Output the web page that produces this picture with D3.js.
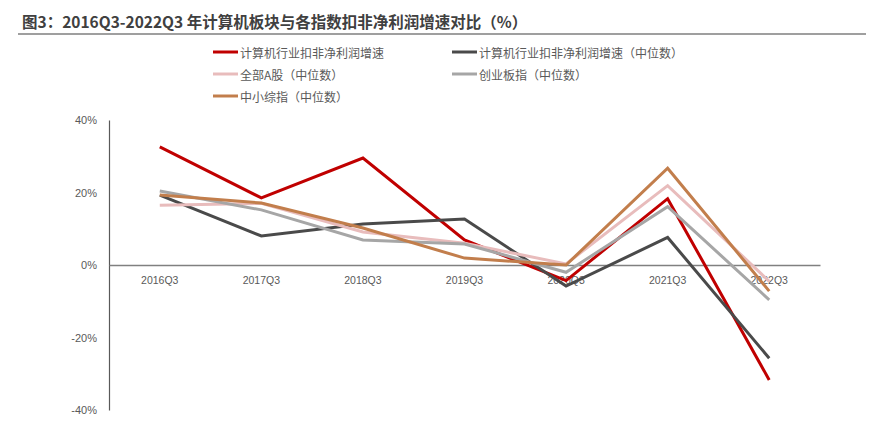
<!DOCTYPE html>
<html>
<head>
<meta charset="utf-8">
<script src="https://cdn.jsdelivr.net/npm/d3@7"></script>
<style>
  body { margin: 0; background: #fff; }
  svg { font-family: "Noto Sans CJK SC", "Noto Sans", sans-serif; }
</style>
</head>
<body>
<svg id="chart" width="886" height="423"></svg>
<script>
// Chart data
const categories = ["2016Q3", "2017Q3", "2018Q3", "2019Q3", "2020Q3", "2021Q3", "2022Q3"];
const computerIndustry = [32.6, 18.5, 29.5, 6.9, -4.3, 18.3, -31.7];
const computerMedian = [19.3, 8.0, 11.3, 12.7, -5.8, 7.6, -25.7];
const allAShareMedian = [16.5, 17.0, 9.1, 6.0, 0.3, 21.9, -4.5];
const chinextMedian = [20.4, 15.2, 6.9, 5.8, -2.0, 16.1, -9.6];
const smeMedian = [19.3, 17.1, 10.2, 1.9, 0.0, 26.7, -7.2];
const yTicks = [-40, -20, 0, 20, 40];

const seriesNames = [
    "计算机行业扣非净利润增速",
    "计算机行业扣非净利润增速（中位数）",
    "全部A股（中位数）",
    "创业板指（中位数）",
    "中小综指（中位数）"
];
const seriesValues = [computerIndustry, computerMedian, allAShareMedian, chinextMedian, smeMedian];
const seriesColors = ["#C00000", "#4A4A4A", "#E8BCBC", "#A6A6A6", "#C27E4C"];

const svg = d3.select("#chart");

// Title and rule beneath it
svg.append("text")
    .attr("x", 22).attr("y", 28)
    .attr("font-size", 15.5).attr("font-weight", "bold")
    .attr("fill", "#404040")
    .text("图3：2016Q3-2022Q3 年计算机板块与各指数扣非净利润增速对比（%）");
svg.append("line")
    .attr("x1", 18).attr("x2", 866).attr("y1", 34).attr("y2", 34)
    .attr("stroke", "#7f7f7f").attr("stroke-width", 1.5);

// Legend
const legendPos = [[213, 52], [452, 52], [213, 74], [452, 74], [213, 96]];
const legend = svg.append("g");
seriesNames.forEach((name, i) => {
    const [lx, ly] = legendPos[i];
    legend.append("line")
        .attr("x1", lx).attr("x2", lx + 25).attr("y1", ly).attr("y2", ly)
        .attr("stroke", seriesColors[i]).attr("stroke-width", 3);
    legend.append("text")
        .attr("x", lx + 27).attr("y", ly)
        .attr("dominant-baseline", "central")
        .attr("font-size", 12).attr("fill", "#595959")
        .text(name);
});

// Scales
const x = d3.scaleBand().domain(categories).range([109, 820]);
const y = d3.scaleLinear().domain([-40, 40]).range([410, 120]);

// Y axis
const yAxis = svg.append("g")
    .attr("transform", "translate(109,0)")
    .call(d3.axisLeft(y).tickValues(yTicks).tickSize(0).tickPadding(12).tickFormat(d => d + "%"));
yAxis.select(".domain").attr("stroke", "#595959").attr("stroke-width", 1.2);
yAxis.selectAll("text").attr("font-size", 11).attr("fill", "#595959")
    .attr("font-family", "Liberation Sans Narrow, Liberation Sans, sans-serif");

// X axis at zero
const xAxis = svg.append("g")
    .attr("transform", `translate(0,${y(0)})`)
    .call(d3.axisBottom(x).tickSize(0).tickPadding(12));
xAxis.select(".domain").attr("stroke", "#808080").attr("stroke-width", 1.5);
xAxis.selectAll("text").attr("font-size", 10.5).attr("fill", "#595959")
    .attr("font-family", "Liberation Sans Narrow, Liberation Sans, sans-serif");

// Lines
const line = d3.line()
    .x((d, i) => x(categories[i]) + x.bandwidth() / 2)
    .y(d => y(d));

svg.append("g")
    .selectAll("path")
    .data(seriesValues)
    .enter()
    .append("path")
    .attr("d", d => line(d))
    .attr("fill", "none")
    .attr("stroke", (d, i) => seriesColors[i])
    .attr("stroke-width", 3)
    .attr("stroke-linejoin", "miter");
</script>
</body>
</html>
